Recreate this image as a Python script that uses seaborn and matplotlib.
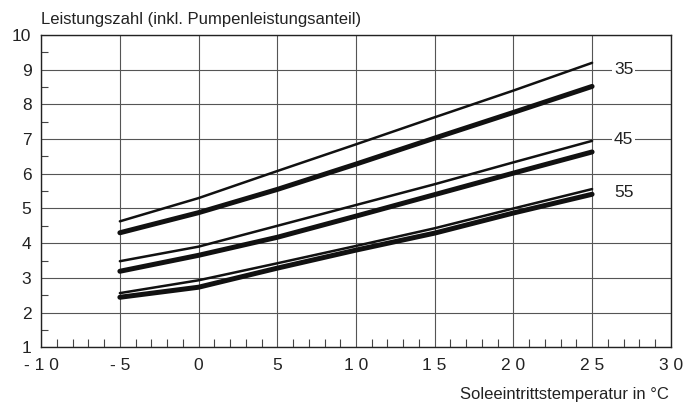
import pandas as pd
import seaborn as sns
import matplotlib
matplotlib.use("Agg")
import matplotlib.pyplot as plt
from matplotlib.ticker import MultipleLocator

# Soleeintrittstemperatur (x) values
temp = [-5, 0, 5, 10, 15, 20, 25]

# Leistungszahl curves, thin and thick for each Vorlauftemperatur
thin_35 = [4.63, 5.30, 6.08, 6.85, 7.63, 8.40, 9.20]
thick_35 = [4.30, 4.88, 5.55, 6.28, 7.03, 7.77, 8.52]
thin_45 = [3.48, 3.90, 4.50, 5.10, 5.70, 6.33, 6.95]
thick_45 = [3.19, 3.65, 4.17, 4.78, 5.40, 6.02, 6.63]
thin_55 = [2.56, 2.93, 3.42, 3.92, 4.43, 5.00, 5.56]
thick_55 = [2.44, 2.73, 3.28, 3.80, 4.29, 4.87, 5.41]

curve_labels = ["35", "45", "55"]
label_y = [9.0, 7.0, 5.47]

xticks = [-10, -5, 0, 5, 10, 15, 20, 25, 30]
xtick_labels = ["- 1 0", "- 5", "0", "5", "1 0", "1 5", "2 0", "2 5", "3 0"]

sns.set_theme(style="white")
plt.rcParams['font.family'] = ['Liberation Sans', 'DejaVu Sans']

fig, ax = plt.subplots(figsize=(6.98, 4.08), dpi=100)
fig.subplots_adjust(left=0.059, right=0.961, top=0.914, bottom=0.149)

for ys in [thin_35, thin_45, thin_55]:
    sns.lineplot(x=temp, y=ys, ax=ax, color="#111111", linewidth=1.8,
                 solid_capstyle="round")
for ys in [thick_35, thick_45, thick_55]:
    sns.lineplot(x=temp, y=ys, ax=ax, color="#111111", linewidth=3.6,
                 solid_capstyle="round")

for lab, yy in zip(curve_labels, label_y):
    ax.text(27.0, yy, lab, fontsize=12.5, ha="center", va="center", color="#222222",
            bbox=dict(facecolor="white", edgecolor="none", pad=1.5), zorder=5)

ax.set_xlim(-10, 30)
ax.set_ylim(1, 10)
ax.set_xticks(xticks)
ax.set_xticklabels(xtick_labels)
ax.set_yticks(range(1, 11))
ax.xaxis.set_minor_locator(MultipleLocator(1))
ax.yaxis.set_minor_locator(MultipleLocator(0.5))
ax.tick_params(axis="both", which="major", length=0, labelsize=12.5, labelcolor="#222222")
ax.tick_params(axis="y", which="major", pad=7)
ax.tick_params(axis="x", which="major", pad=8)
ax.tick_params(axis="x", which="minor", direction="in", length=6, width=0.8,
               color="#444444", bottom=True)
ax.tick_params(axis="y", which="minor", direction="in", length=5, width=0.8,
               color="#444444", left=True)
ax.grid(True, which="major", color="#555555", linewidth=0.8)
ax.set_axisbelow(True)
for sp in ax.spines.values():
    sp.set_color("#222222")
    sp.set_linewidth(1.0)

ax.set_xlabel("")
ax.set_ylabel("")
fig.text(0.059, 0.953, "Leistungszahl (inkl. Pumpenleistungsanteil)", fontsize=12,
         ha="left", va="center", color="#222222")
fig.text(0.958, 0.032, "Soleeintrittstemperatur in °C", fontsize=12,
         ha="right", va="center", color="#222222")

fig.savefig("out.png", dpi=100)
